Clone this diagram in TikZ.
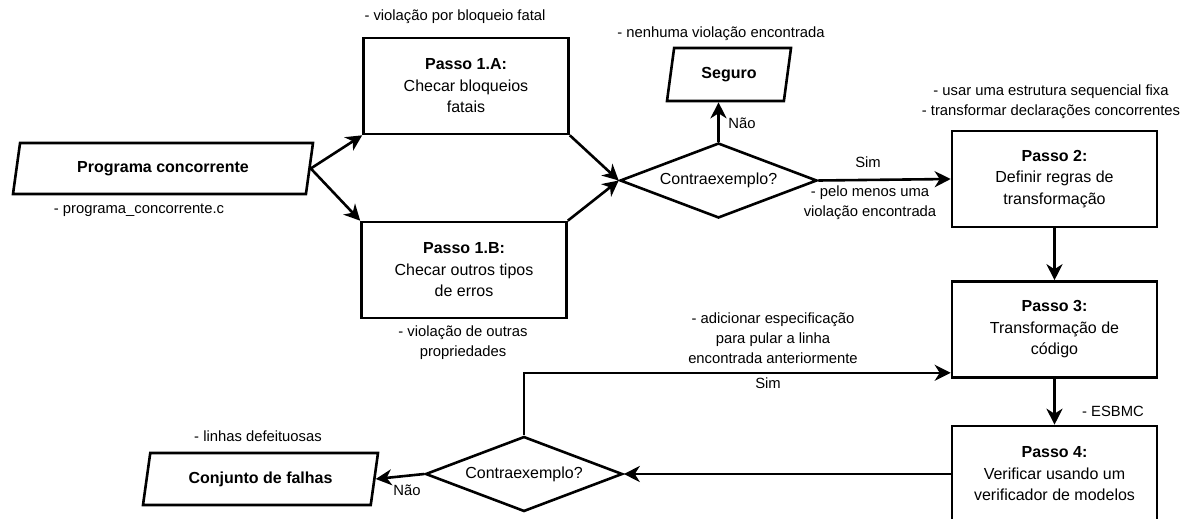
\documentclass[tikz,border=0pt]{standalone}
\usepackage{fontspec}
\setmainfont{Liberation Sans}
\usepackage{xcolor}
\definecolor{cLine}{HTML}{000000}
\usepackage{tikz}
\usetikzlibrary{positioning,arrows.meta,shapes.geometric,calc}
\tikzset{
  node-box/.style={draw=cLine,line width=2.6pt,minimum width=205pt,
    minimum height=96pt,align=center,inner sep=2pt,
    font=\fontsize{16}{21.5}\selectfont},
  node-io/.style={draw=cLine,line width=2.6pt,trapezium,
    trapezium left angle=69,trapezium right angle=111,
    trapezium stretches body,inner sep=2pt,
    font=\fontsize{16}{21}\selectfont\bfseries},
  node-decision/.style={draw=cLine,line width=2.6pt,diamond,aspect=2.63,
    minimum width=197pt,minimum height=75pt,inner sep=0pt,
    font=\fontsize{16}{21}\selectfont},
  note/.style={align=center,inner sep=0pt,font=\fontsize{14.8}{20}\selectfont},
  arrow/.style={-{Stealth[length=16pt,width=16pt,inset=5pt]},
    line width=2.6pt,draw=cLine},
}

\begin{document}
\begin{tikzpicture}[x=1pt,y=-1pt]
  \fill[white] (0,0) rectangle (1188,519);
  \useasboundingbox (0,0) rectangle (1188,519);

  % entrada e passos 1.A / 1.B
  \node[node-io,minimum width=300pt,minimum height=51pt] (prog) at (163,168.5) {Programa concorrente};
  \node[node-box] (step1a) at (466,86) {\textbf{Passo 1.A:}\\Checar bloqueios\\fatais};
  \node[node-box] (step1b) at (464,270) {\textbf{Passo 1.B:}\\Checar outros tipos\\de erros};
  \node[node-decision] (dec1) at (718.5,180.5) {Contraexemplo?};
  \node[node-io,minimum width=124pt,minimum height=53pt] (safe) at (729,74.5) {Seguro};

  % coluna da direita: passos 2, 3 e 4
  \foreach \name/\y/\txt in {step2/179/{\textbf{Passo 2:}\\Definir regras de\\transformação},
      step3/329.5/{\textbf{Passo 3:}\\Transformação de\\código},
      step4/474/{\textbf{Passo 4:}\\Verificar usando um\\verificador de modelos}} {
    \node[node-box] (\name) at (1054.5,\y) {\txt};
  }
  \node[node-decision] (dec2) at (524,474) {Contraexemplo?};
  \node[node-io,minimum width=235pt,minimum height=52pt] (faults) at (260.5,479) {Conjunto de falhas};

  % anotacoes
  \node[note] (note-prog) at (139,210) {- programa\_concorrente.c};
  \node[note] (note-1a) at (455,17) {- violação por bloqueio fatal};
  \node[note] (note-1b) at (463,343) {- violação de outras\\propriedades};
  \node[note] (note-safe) at (721,34) {- nenhuma violação encontrada};
  \node[note] (note-2) at (1051,102) {- usar uma estrutura sequencial fixa\\- transformar declarações concorrentes};
  \node[note] (note-found) at (870,203) {- pelo menos uma\\violação encontrada};
  \node[note] (note-yes1) at (868,162) {Sim};
  \node[note] (note-no1) at (742,123) {Não};
  \node[note] (note-esbmc) at (1113,411) {- ESBMC};
  \node[note] (note-skip) at (773,338) {- adicionar especificação\\para pular a linha\\encontrada anteriormente};
  \node[note] (note-yes2) at (768,383) {Sim};
  \node[note] (note-faults) at (258,436) {- linhas defeituosas};
  \node[note] (note-no2) at (407,490) {Não};

  % conexoes
  \draw[arrow] (prog.right side) -- (step1a.south west);
  \draw[arrow] (prog.right side) -- (step1b.north west);
  \draw[arrow] (step1a.south east) -- (dec1.west);
  \draw[arrow] (step1b.north east) -- (dec1.west);
  \draw[arrow] (dec1.north) -- (dec1.north |- safe.south);
  \draw[arrow] (dec1.east) -- (step2.west);
  \draw[arrow] (step2) -- (step3);
  \draw[arrow] (step3) -- (step4);
  \draw[arrow] (step4.west) -- (dec2.east);
  \draw[arrow] (dec2.west) -- (faults.right side);
  \draw[arrow] (dec2.north) |- ([yshift=6pt]step3.south west);
\end{tikzpicture}
\end{document}
